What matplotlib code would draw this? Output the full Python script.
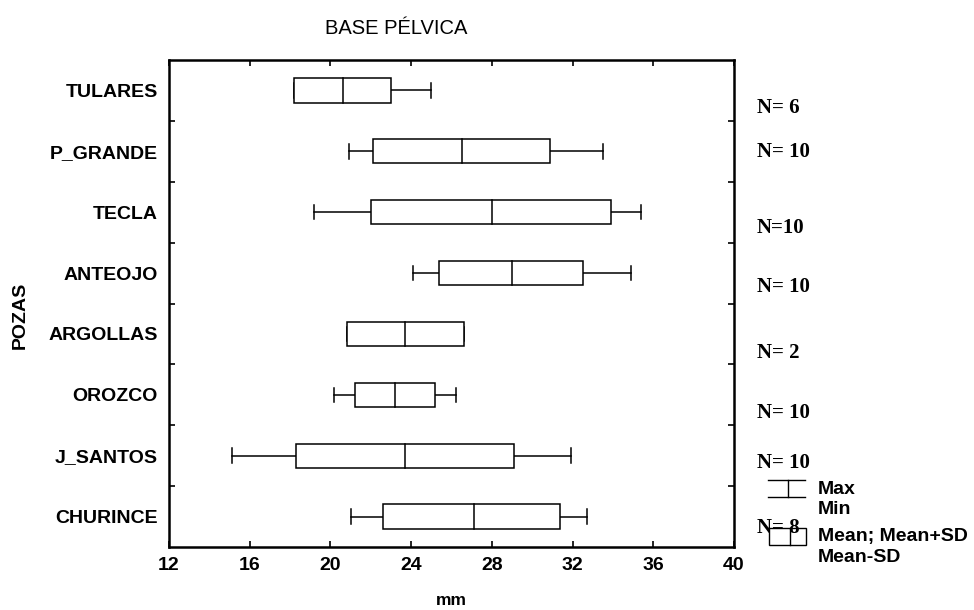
import matplotlib
matplotlib.use("Agg")
import matplotlib.pyplot as plt
from matplotlib.lines import Line2D
from matplotlib.patches import Rectangle

categories = ["TULARES", "P_GRANDE", "TECLA", "ANTEOJO", "ARGOLLAS", "OROZCO", "J_SANTOS", "CHURINCE"]
means   = [20.6, 26.5, 28.0, 29.0, 23.7, 23.2, 23.7, 27.1]
sd_low  = [18.2, 22.1, 22.0, 25.4, 20.8, 21.2, 18.3, 22.6]
sd_high = [23.0, 30.9, 33.9, 32.5, 26.6, 25.2, 29.1, 31.4]
mins    = [18.2, 20.9, 19.2, 24.1, 20.8, 20.2, 15.1, 21.0]
maxs    = [25.0, 33.5, 35.4, 34.9, 26.6, 26.2, 31.9, 32.7]
n_labels = ["N= 6", "N= 10", "N=10", "N= 10", "N= 2", "N= 10", "N= 10", "N= 8"]
xticks = [12, 16, 20, 24, 28, 32, 36, 40]

W, H = 974, 610
fig = plt.figure(figsize=(W / 100, H / 100), dpi=100)
fig.patch.set_facecolor("white")
ax = fig.add_axes([169 / W, 1 - 547 / H, 565 / W, 487 / H])

SANS = ["Liberation Sans", "DejaVu Sans"]
SERIF = ["Liberation Serif", "DejaVu Serif"]
FS = 14

box_h = 0.40
cap_h = 0.24
lw = 1.1
for i in range(len(categories)):
    if mins[i] < sd_low[i]:
        ax.plot([mins[i], sd_low[i]], [i, i], color="black", lw=lw, zorder=2)
    if maxs[i] > sd_high[i]:
        ax.plot([sd_high[i], maxs[i]], [i, i], color="black", lw=lw, zorder=2)
    ax.plot([mins[i], mins[i]], [i - cap_h / 2, i + cap_h / 2], color="black", lw=lw, zorder=2)
    ax.plot([maxs[i], maxs[i]], [i - cap_h / 2, i + cap_h / 2], color="black", lw=lw, zorder=2)
    ax.add_patch(Rectangle((sd_low[i], i - box_h / 2), sd_high[i] - sd_low[i], box_h,
                           facecolor="white", edgecolor="black", lw=lw, zorder=3))
    ax.plot([means[i], means[i]], [i - box_h / 2, i + box_h / 2], color="black", lw=lw, zorder=4)

ax.set_xlim(12, 40)
ax.set_ylim(len(categories) - 0.5, -0.5)
ax.set_xticks(xticks)
ax.set_xticklabels([str(t) for t in xticks], fontsize=FS, fontweight="bold", family=SANS)
ax.set_yticks(range(len(categories)))
ax.set_yticklabels(categories, fontsize=FS, fontweight="bold", family=SANS)
ax.set_yticks([i + 0.5 for i in range(len(categories) - 1)], minor=True)
ax.tick_params(axis="y", which="major", length=0, pad=8)
ax.tick_params(axis="y", which="minor", direction="in", length=4, width=1.2, left=True, right=True)
ax.tick_params(axis="x", which="major", direction="in", length=4, width=1.2, top=True, pad=7)
for s in ax.spines.values():
    s.set_linewidth(1.8)

ax.set_xlabel("mm", fontsize=12.5, fontweight="bold", family=SANS, labelpad=14)
fig.text(20 / W, 1 - 315 / H, "POZAS", rotation=90, ha="center", va="center",
         fontsize=FS, fontweight="bold", family=SANS)
fig.text(396 / W, 1 - 29 / H, "BASE PÉLVICA", ha="center", va="center",
         fontsize=14.5, family=SANS)

n_y = [108, 152, 228, 287, 353, 413, 463, 528]
for lab, yy in zip(n_labels, n_y):
    fig.text(757 / W, 1 - yy / H, lab, ha="left", va="center", fontsize=15,
             fontweight="bold", family=SERIF)

def fx(x):
    return x / W
def fy(y):
    return 1 - y / H
for (x0, x1, y0, y1) in [(768, 805, 480, 480), (768, 805, 497, 497), (788, 788, 480, 497)]:
    fig.add_artist(Line2D([fx(x0), fx(x1)], [fy(y0), fy(y1)], color="black", lw=1.0,
                          transform=fig.transFigure))
fig.add_artist(Rectangle((fx(769), fy(545)), (806 - 769) / W, (545 - 528) / H,
                         facecolor="none", edgecolor="black", lw=1.0, transform=fig.transFigure))
fig.add_artist(Line2D([fx(790), fx(790)], [fy(528), fy(545)], color="black", lw=1.0,
                      transform=fig.transFigure))
for txt, yy in [("Max", 490), ("Min", 510), ("Mean; Mean+SD", 536), ("Mean-SD", 558)]:
    fig.text(fx(818), fy(yy), txt, ha="left", va="center", fontsize=FS,
             fontweight="bold", family=SANS)

fig.savefig("out.png", dpi=100, facecolor="white")
